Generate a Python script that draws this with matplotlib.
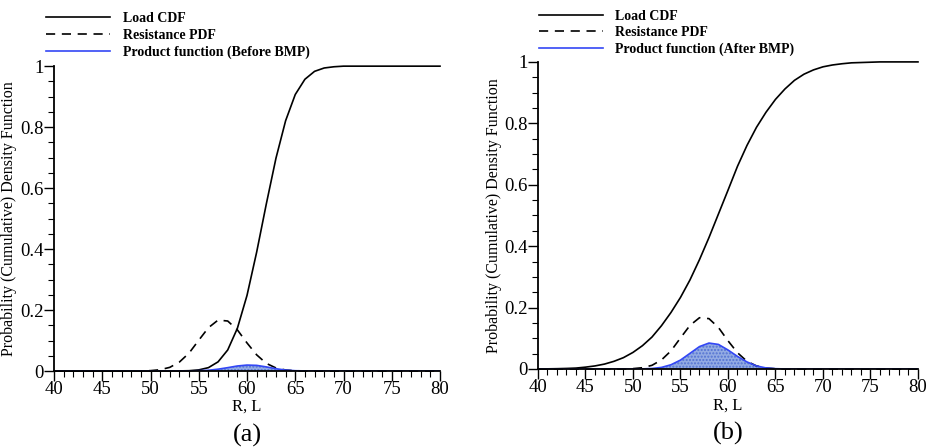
import numpy as np
import matplotlib
matplotlib.use("Agg")
import matplotlib.pyplot as plt
from matplotlib.ticker import MultipleLocator, FormatStrFormatter

plt.rcParams['font.family'] = ['Liberation Serif', 'DejaVu Serif']
plt.rcParams['hatch.linewidth'] = 1.0

# values at R, L = 40 ... 80
x_vals = list(range(40, 81))

load_cdf_a = [0, 0, 0, 0, 0, 0, 0, 0, 0, 0,
              0.0, 0.0, 0.0001, 0.0003, 0.001, 0.0037, 0.011, 0.030, 0.069, 0.140,
              0.248, 0.390, 0.548, 0.698, 0.821, 0.907, 0.957, 0.983, 0.994, 0.998,
              1.0, 1.0, 1.0, 1.0, 1.0, 1.0, 1.0, 1.0, 1.0, 1.0, 1.0]

resistance_pdf = [0, 0, 0, 0, 0, 0, 0, 0, 0, 0.0003,
                  0.0012, 0.0042, 0.012, 0.0295, 0.059, 0.101, 0.142, 0.167, 0.164, 0.135,
                  0.092, 0.053, 0.025, 0.010, 0.0033, 0.0009, 0.0002, 0, 0, 0,
                  0, 0, 0, 0, 0, 0, 0, 0, 0, 0, 0]

product_a = [0, 0, 0, 0, 0, 0, 0, 0, 0, 0,
             0, 0, 0, 0, 0.0003, 0.001, 0.0025, 0.006, 0.011, 0.0165,
             0.0195, 0.0185, 0.0135, 0.0075, 0.003, 0.001, 0.0003, 0, 0, 0,
             0, 0, 0, 0, 0, 0, 0, 0, 0, 0, 0]

load_cdf_b = [0.0002, 0.0005, 0.001, 0.0018, 0.003, 0.006, 0.010, 0.016, 0.025, 0.037,
              0.054, 0.076, 0.104, 0.141, 0.184, 0.233, 0.290, 0.356, 0.428, 0.505,
              0.582, 0.660, 0.728, 0.787, 0.836, 0.878, 0.912, 0.940, 0.960, 0.974,
              0.984, 0.990, 0.994, 0.997, 0.998, 0.999, 1.0, 1.0, 1.0, 1.0, 1.0]

product_b = [0, 0, 0, 0, 0, 0, 0, 0, 0, 0,
             0, 0.0004, 0.0016, 0.0052, 0.0138, 0.029, 0.051, 0.073, 0.0845, 0.080,
             0.062, 0.041, 0.023, 0.010, 0.0035, 0.001, 0.0002, 0, 0, 0,
             0, 0, 0, 0, 0, 0, 0, 0, 0, 0, 0]

panels = [
    dict(cdf=load_cdf_a, prod=product_a, label='Product function (Before BMP)', tag='(a)',
         rect=[0.0579, 0.170, 0.4137, 0.682], leg=(0.045, 0.982), ylx=-0.095),
    dict(cdf=load_cdf_b, prod=product_b, label='Product function (After BMP)', tag='(b)',
         rect=[0.5766, 0.1745, 0.4073, 0.687], leg=(0.5729, 0.988), ylx=-0.095),
]

fig = plt.figure(figsize=(9.33, 4.47), dpi=100)

for p in panels:
    ax = fig.add_axes(p['rect'])
    ax.plot(x_vals, p['cdf'], color='black', lw=1.2, label='Load CDF', clip_on=False)
    ax.plot(x_vals, resistance_pdf, color='black', lw=1.2, linestyle=(0, (5.5, 4)),
            label='Resistance PDF', clip_on=False)
    ax.fill_between(x_vals, 0, p['prod'], facecolor='#93abe3', edgecolor='#5272d2',
                    hatch='.....', linewidth=0)
    ax.plot(x_vals, p['prod'], color='#3347f5', lw=1.2, label=p['label'])

    ax.set_xlim(40, 80)
    ax.set_ylim(0, 1)
    for s in ['top', 'right']:
        ax.spines[s].set_visible(False)
    for s in ['left', 'bottom']:
        ax.spines[s].set_linewidth(1.3)
    ax.xaxis.set_major_locator(MultipleLocator(5))
    ax.xaxis.set_minor_locator(MultipleLocator(1))
    ax.yaxis.set_major_locator(MultipleLocator(0.2))
    ax.yaxis.set_minor_locator(MultipleLocator(0.05))
    ax.yaxis.set_major_formatter(FormatStrFormatter('%g'))
    ax.tick_params(which='major', direction='out', length=7, width=1.0, labelsize=13.5, pad=0.5)
    ax.tick_params(which='minor', direction='out', length=4, width=0.8)

    ax.set_xlabel('R, L', fontsize=12)
    ax.xaxis.set_label_coords(0.5, -0.092)
    ax.set_ylabel('Probability (Cumulative) Density Function', fontsize=11.5)
    ax.yaxis.set_label_coords(p['ylx'], 0.5)

    ax.text(0.5, -0.172, p['tag'], transform=ax.transAxes, ha='center', va='top', fontsize=19)

    fig.legend(*ax.get_legend_handles_labels(), loc='upper left', bbox_to_anchor=p['leg'],
               frameon=False, prop=dict(weight='bold', size=10), handlelength=4.6,
               handletextpad=0.9, labelspacing=0.25, borderpad=0.3, borderaxespad=0)

fig.savefig('out.png', dpi=100)
